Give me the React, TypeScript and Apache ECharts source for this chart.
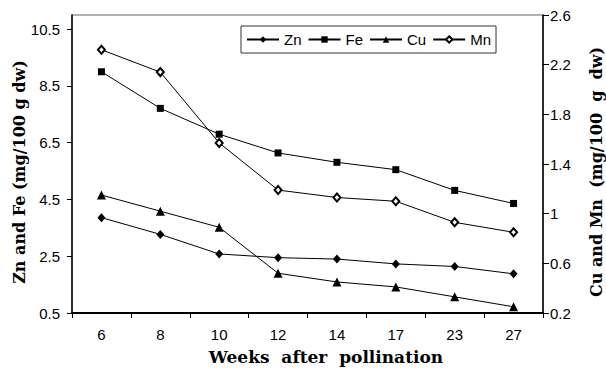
import React, { useEffect, useRef } from "react";
import * as echarts from "echarts";

const categories = ["6", "8", "10", "12", "14", "17", "23", "27"];
const zn = [3.86, 3.27, 2.58, 2.45, 2.4, 2.23, 2.14, 1.88];
const fe = [9.0, 7.71, 6.8, 6.14, 5.81, 5.55, 4.82, 4.36];
const cu = [1.15, 1.02, 0.89, 0.52, 0.45, 0.41, 0.33, 0.25];
const mn = [2.32, 2.14, 1.57, 1.19, 1.13, 1.1, 0.93, 0.85];
const leftTicks = [0.5, 2.5, 4.5, 6.5, 8.5, 10.5];
const rightTicks = [0.2, 0.6, 1, 1.4, 1.8, 2.2, 2.6];
const xTitle = "Weeks  after  pollination";
const leftTitle = "Zn and Fe (mg/100 g dw)";
const rightTitle = "Cu and Mn  (mg/100  g  dw)";

const SANS = "'Liberation Sans', Arial, sans-serif";
const SERIF = "'DejaVu Serif', 'Liberation Serif', serif";

export default function App() {
  const ref = useRef<HTMLDivElement>(null);
  useEffect(() => {
    if (!ref.current) return;
    const chart = echarts.init(ref.current, null, { renderer: "svg" });
    const lineSeries = (name: string, data: number[], symbol: string, size: any, yAxisIndex: number) => ({
      name,
      type: "line",
      data,
      yAxisIndex,
      symbol,
      symbolSize: size,
      showSymbol: true,
      lineStyle: { color: "#000", width: 1 },
      itemStyle: { color: "#000", borderColor: "#000", borderWidth: symbol.startsWith("empty") ? 1 : 0 },
      z: 3,
    });
    chart.setOption({
      animation: false,
      backgroundColor: "#fff",
      grid: {
        left: 72,
        right: 63,
        top: 15,
        bottom: 55,
        show: true,
        borderColor: "#666",
        borderWidth: 1,
        backgroundColor: "transparent",
      },
      legend: {
        left: 241,
        top: 26,
        orient: "horizontal",
        padding: [6, 5, 6, 5],
        itemGap: 6,
        itemWidth: 32,
        itemHeight: 8,
        borderColor: "#333",
        borderWidth: 1,
        textStyle: { fontFamily: SANS, fontSize: 15, color: "#000" },
        data: ["Zn", "Fe", "Cu", "Mn"],
      },
      xAxis: {
        type: "category",
        data: categories,
        boundaryGap: true,
        axisLine: { lineStyle: { color: "#000", width: 2 } },
        axisTick: { show: true, length: 5, lineStyle: { color: "#000", width: 1 } },
        axisLabel: { fontFamily: SANS, fontSize: 15, color: "#000", margin: 14 },
        splitLine: { show: false },
      },
      yAxis: [
        {
          type: "value",
          position: "left",
          min: 0.5,
          max: 11,
          interval: 2,
          axisLine: { show: true, lineStyle: { color: "#000", width: 1.5 } },
          axisTick: { show: true, length: 5, customValues: leftTicks, lineStyle: { color: "#000", width: 1 } },
          axisLabel: { fontFamily: SANS, fontSize: 15, color: "#000", margin: 12, customValues: leftTicks },
          splitLine: { show: false },
        },
        {
          type: "value",
          position: "right",
          min: 0.2,
          max: 2.6,
          interval: 0.4,
          axisLine: { show: true, lineStyle: { color: "#000", width: 1.5 } },
          axisTick: { show: true, length: 6, customValues: rightTicks, lineStyle: { color: "#000", width: 1 } },
          axisLabel: { fontFamily: SANS, fontSize: 15, color: "#000", margin: 7, customValues: rightTicks },
          splitLine: { show: false },
        },
      ],
      graphic: [
        {
          type: "text",
          x: 326,
          y: 357,
          style: {
            text: xTitle,
            fontFamily: SERIF,
            fontWeight: "bold",
            fontSize: 17,
            fill: "#000",
            textAlign: "center",
            textVerticalAlign: "middle",
          },
        },
        {
          type: "text",
          x: 19,
          y: 172,
          rotation: Math.PI / 2,
          style: {
            text: leftTitle,
            fontFamily: SERIF,
            fontWeight: "bold",
            fontSize: 16,
            fill: "#000",
            textAlign: "center",
            textVerticalAlign: "middle",
          },
        },
        {
          type: "text",
          x: 596,
          y: 172,
          rotation: Math.PI / 2,
          style: {
            text: rightTitle,
            fontFamily: SERIF,
            fontWeight: "bold",
            fontSize: 16,
            fill: "#000",
            textAlign: "center",
            textVerticalAlign: "middle",
          },
        },
      ],
      series: [
        lineSeries("Zn", zn, "diamond", [8, 9], 0),
        lineSeries("Fe", fe, "rect", 7, 0),
        lineSeries("Cu", cu, "triangle", 9, 1),
        lineSeries("Mn", mn, "emptyDiamond", [7, 8], 1),
      ],
    });
    return () => chart.dispose();
  }, []);
  return (
    <div
      ref={ref}
      style={{ position: "fixed", left: 0, top: 0, width: 606, height: 368, background: "#fff" }}
    />
  );
}
